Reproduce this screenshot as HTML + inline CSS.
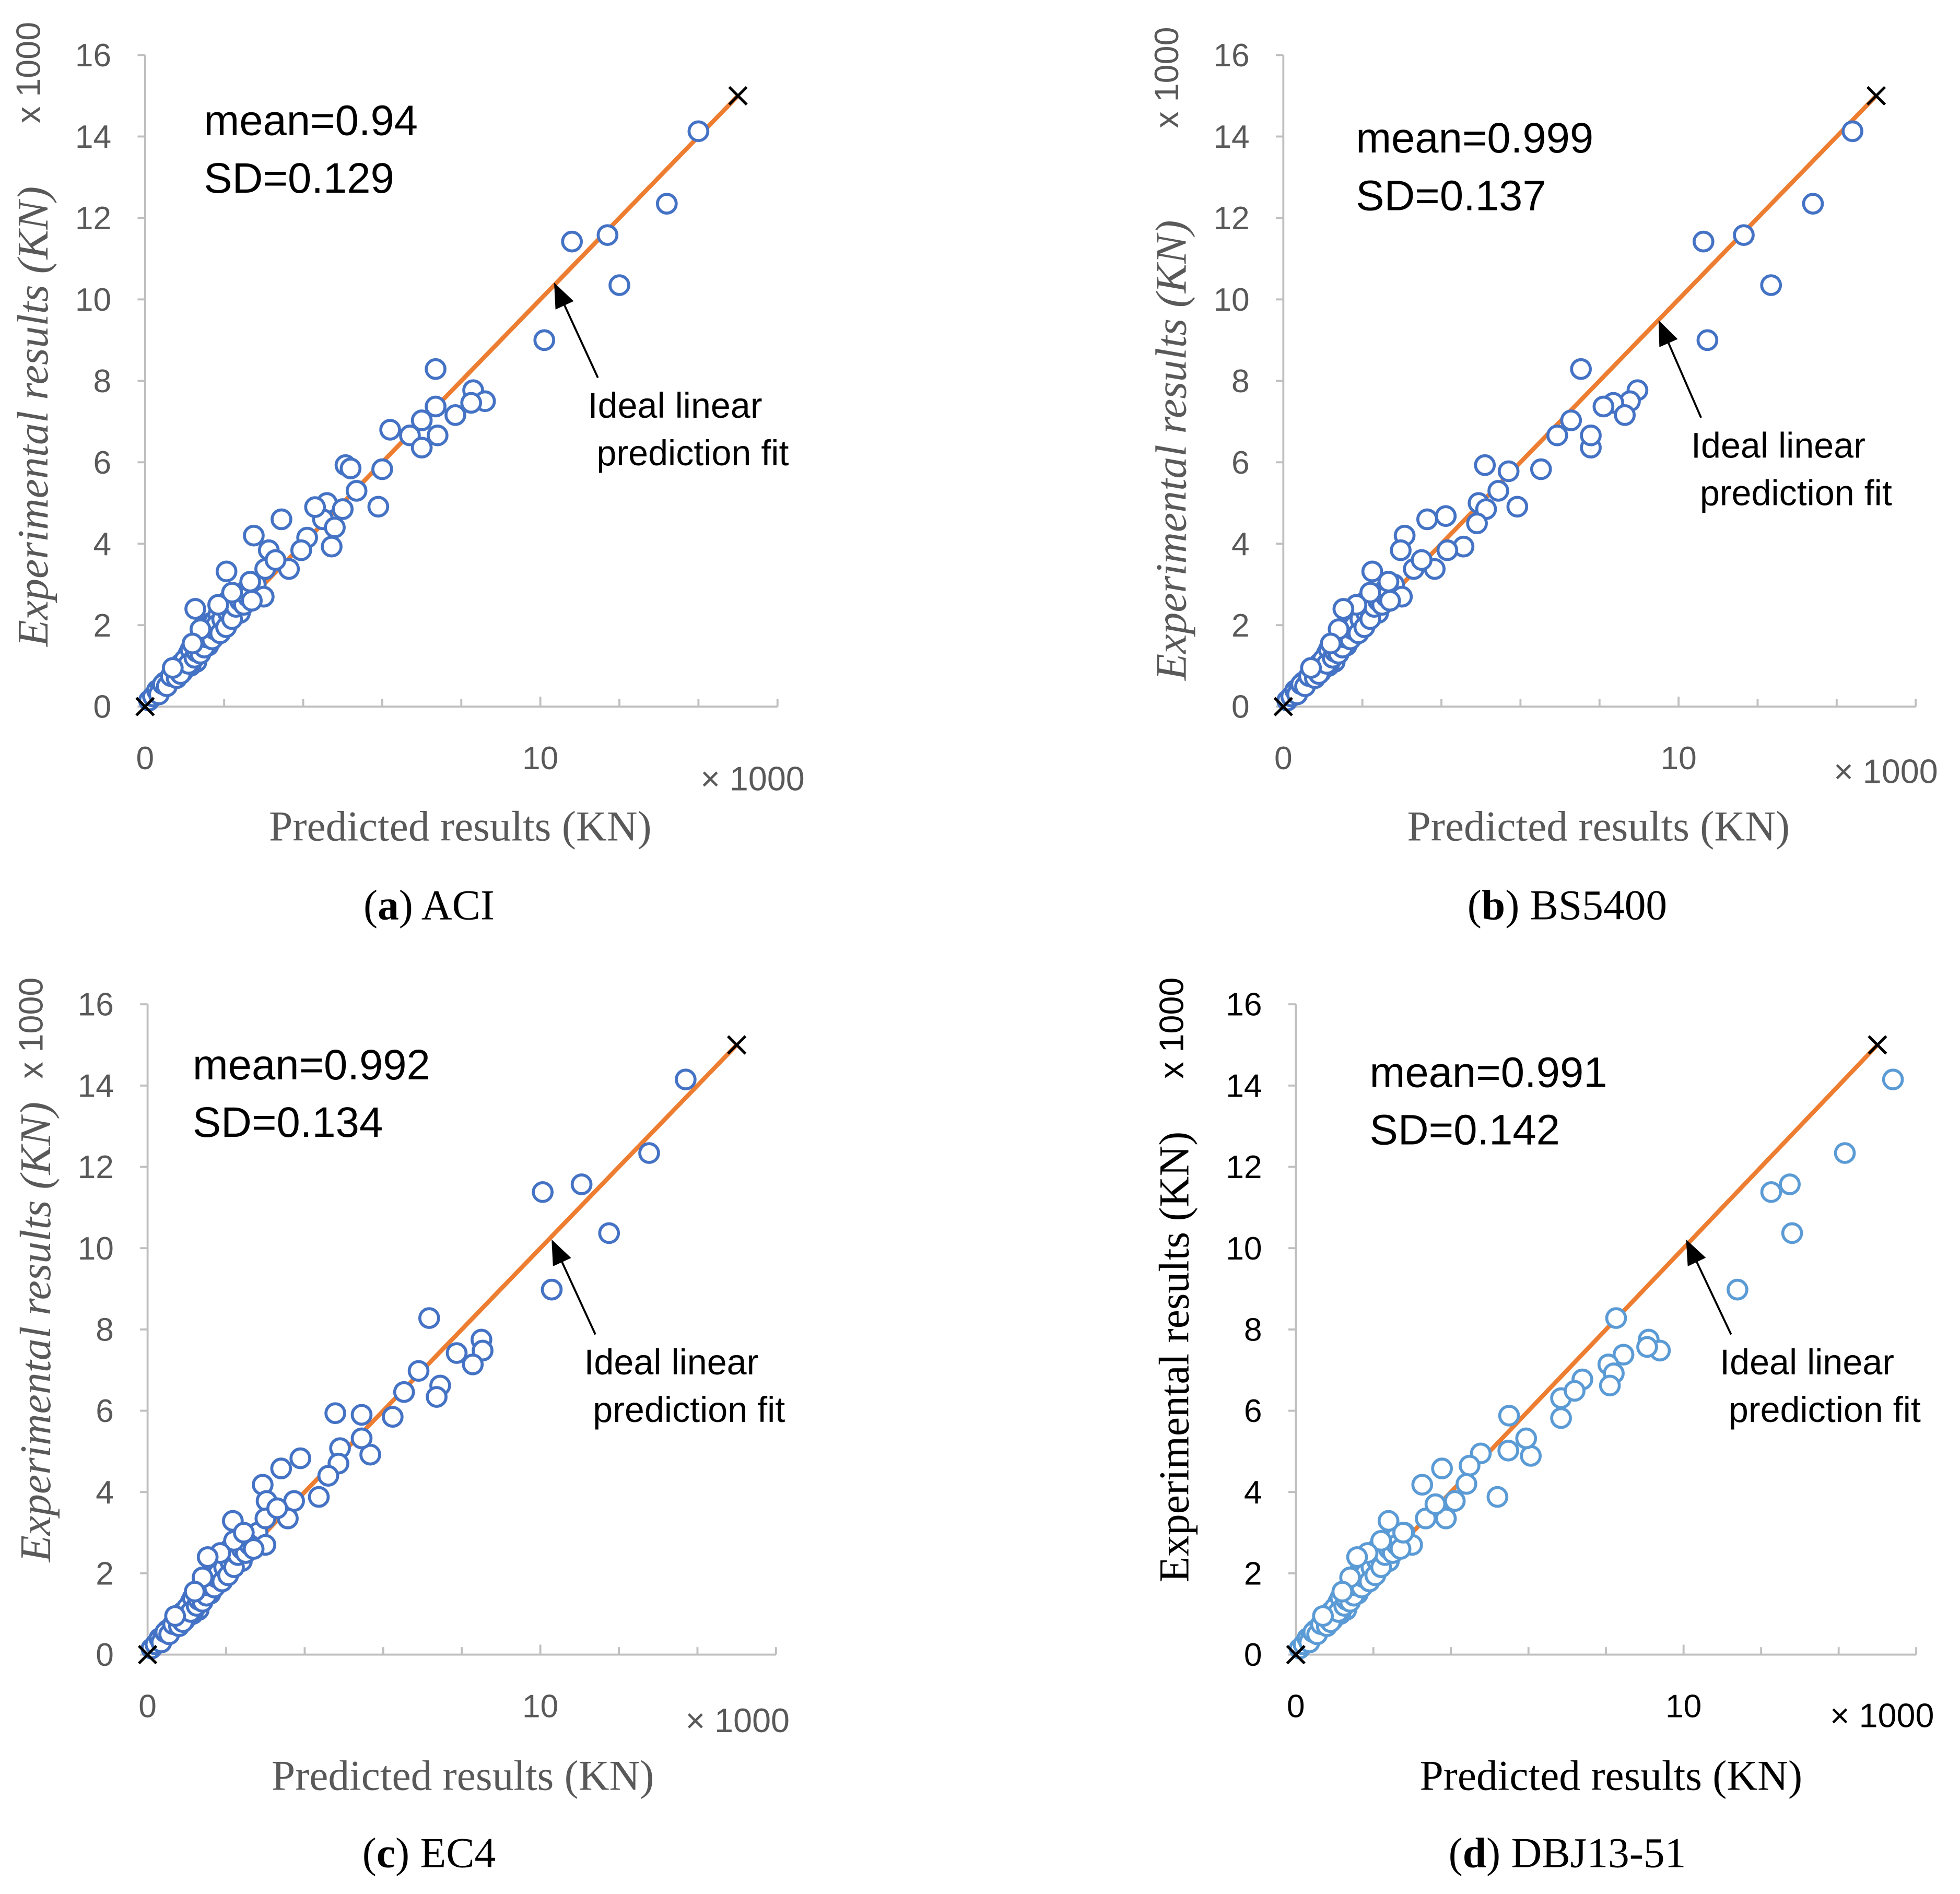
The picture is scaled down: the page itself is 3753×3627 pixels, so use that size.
<!DOCTYPE html>
<html><head><meta charset="utf-8">
<style>
html,body{margin:0;padding:0;background:#fff;}
svg{display:block;}
</style></head>
<body>
<svg id="fig" xmlns="http://www.w3.org/2000/svg" width="3753" height="3627" viewBox="0 0 1567 1514.4" preserveAspectRatio="none"></svg>
<script>
// ---- data (x1000 kN): [predicted, experimental] ----
const cluster = [[0.1,0.15],[0.2,0.25],[0.3,0.4],[0.4,0.45],[0.5,0.6],[0.6,0.65],[0.7,0.8],[0.75,0.95],[0.85,0.9],[0.9,1.05],[1.0,1.0],[1.05,1.2],[1.1,1.3],[1.2,1.25],[1.25,1.45],[1.3,1.1],[1.35,1.55],[1.4,1.7],[1.45,1.4],[1.5,1.8],[1.55,1.95],[1.6,1.6],[1.65,2.05],[1.7,1.85],[1.75,2.1],[1.8,1.75],[1.85,2.25],[1.9,2.0],[1.95,2.4],[2.0,2.2],[2.1,2.6],[2.2,2.5],[2.3,2.75],[2.4,2.3],[2.5,2.8],[2.6,2.9],[1.6,1.5],[0.95,0.85],[1.15,1.0],[2.8,3.0],[3.0,2.7]];
const cluster2 = [[0.35,0.3],[0.45,0.55],[0.55,0.5],[0.65,0.75],[0.8,0.7],[0.9,0.8],[1.0,1.15],[1.1,1.05],[1.15,1.4],[1.25,1.2],[1.3,1.35],[1.4,1.3],[1.45,1.6],[1.5,1.45],[1.55,1.7],[1.6,1.85],[1.7,1.65],[1.75,1.9],[1.8,2.0],[1.9,1.8],[1.95,2.15],[2.05,1.95],[2.1,2.3],[2.2,2.15],[2.3,2.45],[2.4,2.6],[2.5,2.5],[2.6,2.7],[2.7,2.6],[2.2,2.8],[1.85,2.5],[1.4,1.9],[1.2,1.55],[0.7,0.95]];
const pointsA = [[14.0,14.13],[13.2,12.35],[11.7,11.58],[10.8,11.42],[12.0,10.35],[10.1,9.0],[7.35,8.29],[8.3,7.77],[8.6,7.5],[8.25,7.46],[7.85,7.16],[7.35,7.37],[7.0,7.03],[6.7,6.66],[7.0,6.36],[7.4,6.66],[6.2,6.8],[6.0,5.83],[5.9,4.91],[5.07,5.93],[5.2,5.85],[5.35,5.3],[4.6,5.0],[5.0,4.85],[4.72,3.93],[4.5,4.6],[4.1,4.15],[3.45,4.6],[2.75,4.2],[3.95,3.84],[3.64,3.38],[3.13,3.84],[3.04,3.38],[2.06,3.32],[2.66,3.07],[1.27,2.4],[4.8,4.4],[4.3,4.9],[3.3,3.6]];
const pointsB = [[14.4,14.13],[13.4,12.35],[11.65,11.58],[10.63,11.42],[12.34,10.35],[10.73,9.0],[7.53,8.29],[8.96,7.77],[8.77,7.5],[8.35,7.46],[8.64,7.16],[8.1,7.37],[7.28,7.03],[6.93,6.66],[7.78,6.36],[7.78,6.66],[6.52,5.83],[5.92,4.91],[5.1,5.93],[5.7,5.78],[5.44,5.3],[4.94,5.0],[5.13,4.85],[4.56,3.93],[4.11,4.68],[3.64,4.6],[3.07,4.2],[4.15,3.84],[3.83,3.38],[2.97,3.84],[3.3,3.38],[2.25,3.32],[2.66,3.07],[1.52,2.4],[4.9,4.5],[3.5,3.6]];
const pointsC = [[13.7,14.15],[12.77,12.34],[11.05,11.57],[10.06,11.38],[11.75,10.37],[10.29,8.98],[7.17,8.28],[8.5,7.75],[8.53,7.48],[8.28,7.14],[7.87,7.42],[6.9,6.98],[6.53,6.46],[7.45,6.62],[7.36,6.34],[6.24,5.85],[5.67,4.92],[4.78,5.94],[5.45,5.9],[5.45,5.32],[4.9,5.08],[4.86,4.7],[4.36,3.88],[3.89,4.83],[3.4,4.58],[2.93,4.18],[3.73,3.78],[3.57,3.35],[3.03,3.78],[3.0,3.35],[2.17,3.29],[2.45,3.0],[1.53,2.4],[4.6,4.4],[3.3,3.6]];
const pointsD = [[15.4,14.15],[14.16,12.34],[12.74,11.57],[12.26,11.38],[12.8,10.37],[11.39,8.98],[8.26,8.28],[9.1,7.75],[9.39,7.48],[9.06,7.57],[8.45,7.38],[8.06,7.14],[8.2,6.92],[8.1,6.62],[7.39,6.77],[6.84,6.31],[6.84,5.82],[7.19,6.49],[6.06,4.89],[5.5,5.88],[5.94,5.32],[5.48,5.02],[4.77,4.95],[5.2,3.88],[4.48,4.65],[3.77,4.58],[3.26,4.18],[4.1,3.78],[3.87,3.35],[3.35,3.35],[2.39,3.29],[2.77,3.0],[1.58,2.4],[4.4,4.2],[3.6,3.7]];
const yTicks = [0,2,4,6,8,10,12,14,16];
const xTicks = [0,2,4,6,8,10,12,14,16];
const xLabels = [0,10];
const idealLine = [[0,0],[15,15]];
const means = ["mean=0.94","mean=0.999","mean=0.992","mean=0.991"];
const sds = ["SD=0.129","SD=0.137","SD=0.134","SD=0.142"];

const NS="http://www.w3.org/2000/svg";
const svg=document.getElementById('fig');
function mk(tag,attrs,parent){const e=document.createElementNS(NS,tag);for(const k in attrs)e.setAttribute(k,attrs[k]);(parent||svg).appendChild(e);return e;}

const panels=[
 {id:'a',x0:116,sx:31.6,y0:565,sy:32.56,pts:pointsA,color:'#4472C4',cap:'ACI',capX:343,capY:735,meanX:163,meanY:108,annX:470,annY:334,arr:[478,302,443,226],ytX:38,ytY:333,yt:'italic',d:false,x1000:[560,632],xtitleY:672,ym:[32,58]},
 {id:'b',x0:1026,sx:31.6,y0:565,sy:32.56,pts:pointsB,color:'#4472C4',cap:'BS5400',capX:1253,capY:735,meanX:1084,meanY:122,annX:1352,annY:366,arr:[1360,334,1326,256],ytX:948,ytY:360,yt:'italic',d:false,x1000:[1466,626],xtitleY:672,ym:[942,62]},
 {id:'c',x0:118,sx:31.4,y0:1323,sy:32.5,pts:pointsC,color:'#4472C4',cap:'EC4',capX:343,capY:1493,meanX:154,meanY:863,annX:467,annY:1099,arr:[476,1067,441,991],ytX:40,ytY:1065,yt:'italic',d:false,x1000:[548,1385],xtitleY:1431,ym:[34,822]},
 {id:'d',x0:1036,sx:31,y0:1323,sy:32.5,pts:pointsD,color:'#5B9BD5',cap:'DBJ13-51',capX:1253,capY:1493,meanX:1095,meanY:869,annX:1375,annY:1099,arr:[1384,1067,1348,991],ytX:950,ytY:1085,yt:'normal',d:true,x1000:[1463,1381],xtitleY:1431,ym:[946,822]}
];

panels.forEach((p,i)=>{
  const g=mk('g',{});
  
  
  const X=v=>p.x0+v*p.sx, Y=v=>p.y0-v*p.sy;
  const tickCol = p.d ? '#000' : '#595959';
  const ya=mk('line',{x1:X(0),y1:Y(0),x2:X(0),y2:Y(16),stroke:'#bfbfbf','stroke-width':1.6},g);
  
  
  const xa=mk('line',{x1:X(0),y1:Y(0),x2:X(16),y2:Y(0),stroke:'#bfbfbf','stroke-width':1.6},g);
  
  
  yTicks.forEach(t=>{
    mk('line',{x1:X(0)-6,y1:Y(t),x2:X(0),y2:Y(t),stroke:'#bfbfbf','stroke-width':1.6},g);
    const tl=mk('text',{x:X(0)-27,y:Y(t)+9,'text-anchor':'end','font-family':'Liberation Sans, sans-serif','font-size':26,fill:tickCol},g);
    tl.textContent=t;
    
    
  });
  xTicks.forEach(t=>{
    mk('line',{x1:X(t),y1:Y(0),x2:X(t),y2:Y(0)-(t%10===0?8:6),stroke:'#bfbfbf','stroke-width':1.6},g);
  });
  xLabels.forEach(t=>{
    const tl=mk('text',{x:X(t),y:Y(0)+50,'text-anchor':'middle','font-family':'Liberation Sans, sans-serif','font-size':26,fill:tickCol},g);
    tl.textContent=t;
    
    
  });
  const xm=mk('text',{x:p.x1000[0],y:p.x1000[1],'font-family':'Liberation Sans, sans-serif','font-size':27,fill:tickCol},g);
  xm.textContent='× 1000';
  
  
  const ymx=p.ym[0], ymy=p.ym[1];
  const ym=mk('text',{x:ymx,y:ymy,transform:`rotate(-90 ${ymx} ${ymy})`,'text-anchor':'middle','font-family':'Liberation Sans, sans-serif','font-size':27,fill:tickCol},g);
  ym.textContent='x 1000';
  
  
  const xt=mk('text',{x:X(0)+252,y:p.xtitleY,'text-anchor':'middle','font-family':'Liberation Serif, serif','font-size':34,fill:p.d?'#000':'#595959'},g);
  xt.textContent='Predicted results (KN)';
  
  
  const yt=mk('text',{x:p.ytX,y:p.ytY,transform:`rotate(-90 ${p.ytX} ${p.ytY})`,'text-anchor':'middle','font-family':'Liberation Serif, serif','font-size':p.d?34:35,'font-style':p.yt,fill:p.d?'#000':'#595959'},g);
  yt.textContent='Experimental results (KN)';
  
  
  const il=mk('line',{x1:X(idealLine[0][0]),y1:Y(idealLine[0][1]),x2:X(idealLine[1][0]),y2:Y(idealLine[1][1]),stroke:'#ED7D31','stroke-width':3.5},g);
  
  
  const all=cluster.concat(cluster2,p.pts);
  all.forEach(pt=>{
    const c=mk('circle',{cx:X(pt[0]),cy:Y(pt[1]),r:7.5,fill:'#fff',stroke:p.color,'stroke-width':2.4},g);
    
    
  });
  idealLine.forEach(pt=>{
    const cx=X(pt[0]),cy=Y(pt[1]);
    const m=mk('path',{d:`M${cx-7} ${cy-7}L${cx+7} ${cy+7}M${cx-7} ${cy+7}L${cx+7} ${cy-7}`,stroke:'#000','stroke-width':2.2},g);
    
    
  });
  const mt=mk('text',{x:p.meanX,y:p.meanY,'font-family':'Liberation Sans, sans-serif','font-size':34,fill:'#000'},g);
  mt.textContent=means[i];
  
  
  const st=mk('text',{x:p.meanX,y:p.meanY+46,'font-family':'Liberation Sans, sans-serif','font-size':34,fill:'#000'},g);
  st.textContent=sds[i];
  
  
  const a1=mk('text',{x:p.annX,y:p.annY,'font-family':'Liberation Sans, sans-serif','font-size':28.5,fill:'#000'},g);
  a1.textContent='Ideal linear';
  
  
  const a2=mk('text',{x:p.annX+7,y:p.annY+38,'font-family':'Liberation Sans, sans-serif','font-size':28.5,fill:'#000'},g);
  a2.textContent='prediction fit';
  
  
  const [ax1,ay1,ax2,ay2]=p.arr;
  const ang=Math.atan2(ay2-ay1,ax2-ax1), L=20, W=8;
  const bx=ax2-L*Math.cos(ang), by=ay2-L*Math.sin(ang);
  const arl=mk('line',{x1:ax1,y1:ay1,x2:bx,y2:by,stroke:'#000','stroke-width':1.6},g);
  
  
  mk('polygon',{points:`${ax2},${ay2} ${bx+W*Math.sin(ang)},${by-W*Math.cos(ang)} ${bx-W*Math.sin(ang)},${by+W*Math.cos(ang)}`,fill:'#000'},g);
  const cp=mk('text',{x:p.capX,y:p.capY,'text-anchor':'middle','font-family':'Liberation Serif, serif','font-size':34,fill:'#000'},g);
  cp.innerHTML='(<tspan font-weight="bold">'+p.id+'</tspan>) '+p.cap;
  
  
});
</script>
</body></html>
